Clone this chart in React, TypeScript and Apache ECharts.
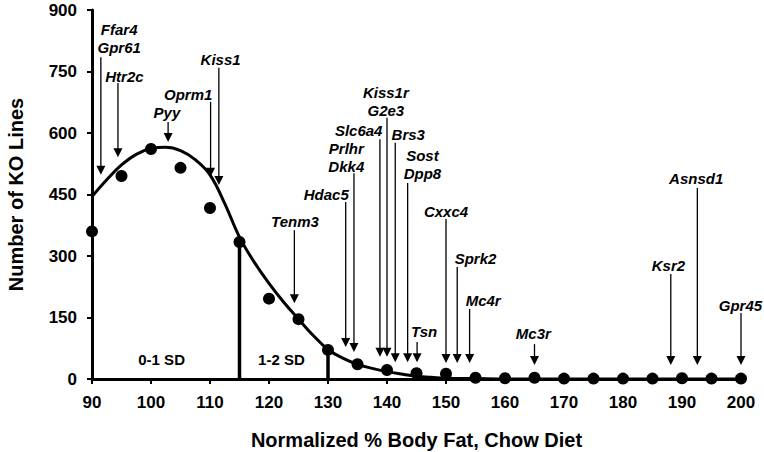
import React, { useEffect, useRef } from "react";
import * as echarts from "echarts";

// Observed data points (number of KO lines per bin)
const dotX = [90, 95, 100, 105, 110, 115, 120, 125, 130, 135, 140, 145, 150, 155, 160, 165, 170, 175, 180, 185, 190, 195, 200];
const dotY = [360, 495, 561, 515, 417, 334, 196, 146, 71, 36, 22, 14, 13, 3, 2, 3, 1, 1, 1, 1, 2, 1, 1];

// Fitted curve
const curveX = [90, 92.5, 95, 97.5, 100, 102.5, 105, 107.5, 110, 112.5, 115, 117.5, 120, 122.5, 125, 127.5, 130, 132.5, 135, 137.5, 140, 142.5, 145, 147.5, 150, 155, 160, 170, 180, 190, 200];
const curveY = [445, 486, 522, 548, 562, 565, 557, 535, 498, 428, 346, 285, 233, 187, 146, 106, 72, 51, 36, 26, 18, 12, 7, 4, 2, 1, 0, 0, 0, 0, 0];

// SD boundaries and labels
const sdBounds = [115, 130];
const sdLabels = ["0-1 SD", "1-2 SD"];
const sdLabelX = [101.8, 122.1];
const sdLabelY = [47, 47];

// Annotated genes
const genes = ["Ffar4\nGpr61", "Htr2c", "Pyy", "Oprm1", "Kiss1", "Tenm3", "Hdac5", "Prlhr\nDkk4", "Slc6a4", "Kiss1r\nG2e3", "Brs3", "Sost\nDpp8", "Tsn", "Cxxc4", "Sprk2", "Mc4r", "Mc3r", "Ksr2", "Asnsd1", "Gpr45"];
const geneFat = [91.5, 94.4, 102.9, 110.1, 111.5, 124.3, 133.0, 134.4, 138.8, 140.0, 141.4, 143.5, 145.1, 150.0, 151.9, 154.0, 165.0, 188.1, 192.6, 200.0];
const arrowTop = [785, 722, 627, 676, 759, 363, 432, 502, 585, 637, 576, 478, 90, 390, 273, 171, 85, 256, 466, 161];
const arrowTip = [498, 541, 578, 493, 473, 185, 78, 66, 54, 54, 41, 41, 41, 39, 39, 39, 34, 34, 34, 34];
const labelX = [94.6, 95.5, 102.7, 106.3, 111.8, 124.4, 129.7, 133.1, 135.2, 139.8, 143.6, 146.0, 146.3, 150.0, 155.0, 156.3, 164.8, 187.7, 192.4, 199.9];
const labelY = [830, 738, 649, 693, 780, 384, 450, 540, 606, 678, 596, 522, 116, 409, 293, 191, 110, 277, 488, 180];

const FONT = '"Liberation Sans", Arial, Helvetica, sans-serif';

export default function App() {
  const ref = useRef<HTMLDivElement>(null);
  useEffect(() => {
    if (!ref.current) return;
    const chart = echarts.init(ref.current, null, { renderer: "svg" });
    const axisCommon = {
      axisLine: { show: true, lineStyle: { color: "#000", width: 3 } },
      axisTick: { show: true, inside: false, length: 5, lineStyle: { color: "#000", width: 2 } },
      splitLine: { show: false },
      axisLabel: { color: "#000", fontSize: 17, fontWeight: "bold", fontFamily: FONT },
      nameTextStyle: { color: "#000", fontSize: 20, fontWeight: "bold", fontFamily: FONT },
    };
    const option: any = {
      animation: false,
      backgroundColor: "#fff",
      grid: { left: 92, right: 23, top: 10, bottom: 73, containLabel: false, outerBoundsMode: "none" },
      xAxis: {
        type: "value",
        min: 90,
        max: 200,
        interval: 10,
        name: "Normalized % Body Fat, Chow Diet",
        nameLocation: "middle",
        nameGap: 51,
        ...axisCommon,
        axisLabel: { ...axisCommon.axisLabel, margin: 15 },
      },
      yAxis: {
        type: "value",
        min: 0,
        max: 900,
        interval: 150,
        name: "Number of KO Lines",
        nameLocation: "middle",
        nameGap: 66,
        ...axisCommon,
        axisLabel: { ...axisCommon.axisLabel, margin: 15 },
      },
      series: [
        {
          type: "line",
          data: curveX.map((x, i) => [x, curveY[i]]),
          smooth: 0.4,
          showSymbol: false,
          symbol: "none",
          lineStyle: { color: "#000", width: 3 },
          z: 3,
        },
        {
          type: "custom",
          coordinateSystem: "cartesian2d",
          clip: false,
          data: sdBounds.map((b) => [b, dotY[dotX.indexOf(b)]]),
          renderItem: (params: any, api: any) => {
            const p0 = api.coord([api.value(0), 0]);
            const p1 = api.coord([api.value(0), api.value(1)]);
            return {
              type: "line",
              shape: { x1: p0[0], y1: p0[1], x2: p1[0], y2: p1[1] },
              style: { stroke: "#000", lineWidth: 3.5 },
            };
          },
          z: 2,
        },
        {
          type: "custom",
          coordinateSystem: "cartesian2d",
          clip: false,
          data: sdLabels.map((s, i) => ({ name: s, value: [sdLabelX[i], sdLabelY[i]] })),
          renderItem: (params: any, api: any) => {
            const p = api.coord([api.value(0), api.value(1)]);
            return {
              type: "text",
              x: p[0],
              y: p[1],
              style: {
                text: sdLabels[params.dataIndex],
                fill: "#000",
                font: `bold 15px ${FONT}`,
                align: "center",
                verticalAlign: "middle",
              },
            };
          },
          z: 4,
        },
        {
          type: "scatter",
          data: dotX.map((x, i) => [x, dotY[i]]),
          symbol: "circle",
          symbolSize: 12,
          itemStyle: { color: "#000", opacity: 1 },
          z: 5,
        },
        {
          type: "custom",
          coordinateSystem: "cartesian2d",
          clip: false,
          data: genes.map((g, i) => ({ name: g, value: [geneFat[i], arrowTop[i], arrowTip[i], labelX[i], labelY[i]] })),
          renderItem: (params: any, api: any) => {
            const x = api.value(0);
            const pt = api.coord([x, api.value(1)]);
            const pe = api.coord([x, api.value(2)]);
            const pl = api.coord([api.value(3), api.value(4)]);
            const hh = 9;
            const hw = 4.5;
            return {
              type: "group",
              children: [
                {
                  type: "line",
                  shape: { x1: pt[0], y1: pt[1], x2: pe[0], y2: pe[1] - hh + 1 },
                  style: { stroke: "#000", lineWidth: 1.3 },
                },
                {
                  type: "polygon",
                  shape: { points: [[pe[0] - hw, pe[1] - hh], [pe[0] + hw, pe[1] - hh], [pe[0], pe[1]]] },
                  style: { fill: "#000" },
                },
                {
                  type: "text",
                  x: pl[0],
                  y: pl[1],
                  style: {
                    text: genes[params.dataIndex],
                    fill: "#000",
                    font: `italic bold 15px ${FONT}`,
                    align: "center",
                    verticalAlign: "middle",
                    lineHeight: 18,
                  },
                },
              ],
            };
          },
          z: 6,
        },
      ],
    };
    chart.setOption(option);
    return () => chart.dispose();
  }, []);
  return (
    <div
      ref={ref}
      style={{ position: "fixed", left: 0, top: 0, width: 764, height: 452, background: "#fff" }}
    />
  );
}
